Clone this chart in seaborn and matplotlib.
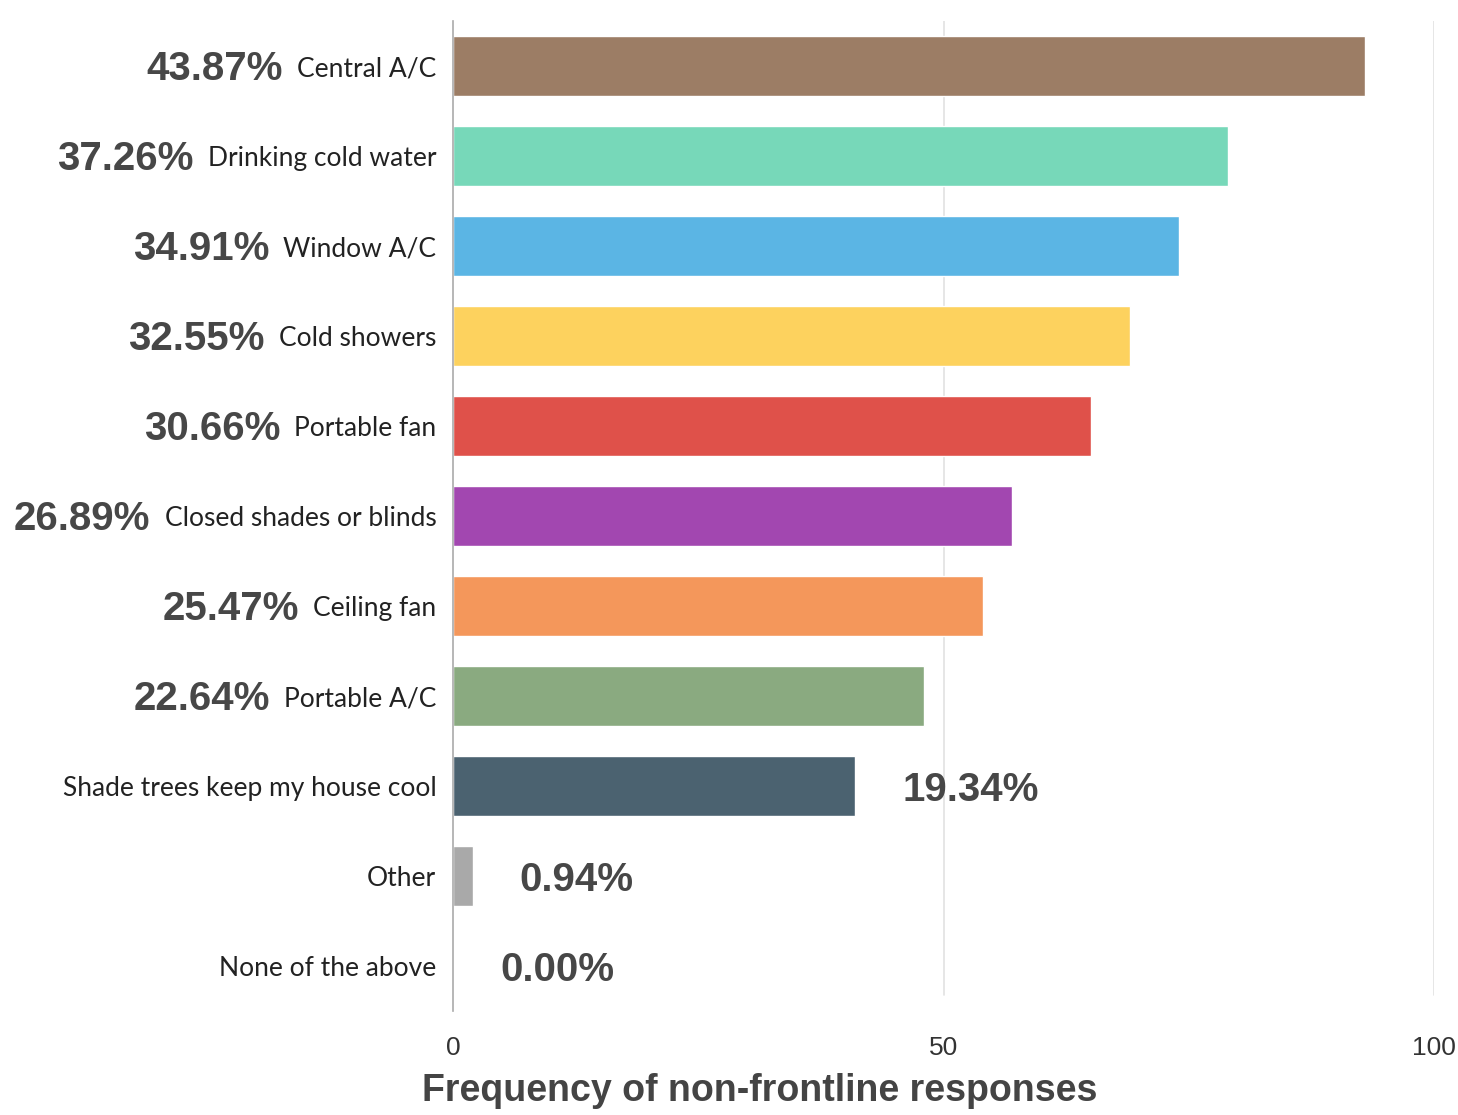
import numpy as np
import pandas as pd
import seaborn as sns
import matplotlib.pyplot as plt

# data (counts out of 212 responses)
categories = ['Central A/C', 'Drinking cold water', 'Window A/C', 'Cold showers',
              'Portable fan', 'Closed shades or blinds', 'Ceiling fan', 'Portable A/C',
              'Shade trees keep my house cool', 'Other', 'None of the above']
counts = [93, 79, 74, 69, 65, 57, 54, 48, 41, 2, 0]
percents = ['43.87%', '37.26%', '34.91%', '32.55%', '30.66%', '26.89%',
            '25.47%', '22.64%', '19.34%', '0.94%', '0.00%']
colors = ['#9C7D65', '#77D8B9', '#5BB5E4', '#FDD25E', '#DF514A', '#A247B0',
          '#F4975B', '#8AAA80', '#4B6270', '#A9A9A9', '#CCCCCC']
x_ticks = [0, 50, 100]

sns.set_theme(style='white')
plt.rcParams['font.family'] = ['Lato', 'DejaVu Sans']

df = pd.DataFrame({'category': categories, 'count': counts})

fig = plt.figure(figsize=(14.58, 11.15), dpi=100)
ax = fig.add_axes([453 / 1458, 1 - 1011 / 1115, (1434 - 453) / 1458, 990 / 1115])

sns.barplot(data=df, x='count', y='category', hue='category', palette=colors,
            saturation=1, legend=False, orient='h', width=0.66, ax=ax)

ax.set_xlim(0, 100)
ax.set_xticks(x_ticks)
ax.set_xticklabels([str(t) for t in x_ticks], family='Liberation Sans',
                   fontsize=19, color='#333333')
ax.tick_params(axis='x', length=0, pad=18)
ax.tick_params(axis='y', length=0, pad=12, labelsize=19, labelcolor='#222222')

for s in ['top', 'right', 'bottom']:
    ax.spines[s].set_visible(False)
ax.spines['left'].set_color('#AAAAAA')
ax.spines['left'].set_linewidth(1.2)
for t in [50, 100]:
    ax.axvline(t, ymin=0.016, ymax=1, color='#E2E2E2', lw=1.2, zorder=0)

ax.set_ylabel('')
ax.set_xlabel('Frequency of non-frontline responses', family='Liberation Sans',
              fontweight='bold', fontsize=27, color='#444444')
ax.xaxis.set_label_coords((760 - 453) / (1434 - 453), -0.063)

# percentage labels: left of the category name for long bars, right of the bar for short ones
fig.canvas.draw()
renderer = fig.canvas.get_renderer()
for lab, cnt, pct in zip(ax.get_yticklabels(), counts, percents):
    bb = lab.get_window_extent(renderer)
    ymid = (bb.y0 + bb.y1) / 2
    if cnt >= 45:
        ax.annotate(pct, xy=(bb.x0 - 14, ymid), xycoords='figure pixels',
                    ha='right', va='center', family='Liberation Sans',
                    fontweight='bold', fontsize=29, color='#474747',
                    annotation_clip=False)
    else:
        ax.annotate(pct, xy=(cnt, categories.index(lab.get_text())),
                    xytext=(34, -3), textcoords='offset points', ha='left',
                    va='center', family='Liberation Sans', fontweight='bold',
                    fontsize=29, color='#474747', annotation_clip=False)

fig.savefig('out.png', dpi=100)
